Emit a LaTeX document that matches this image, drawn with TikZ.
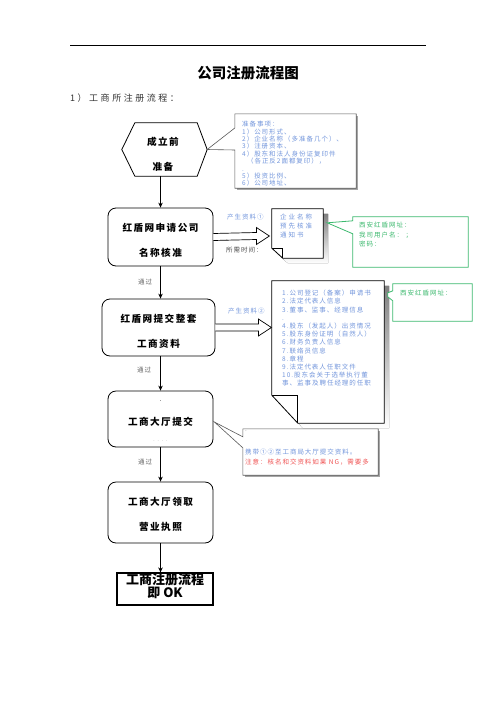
\documentclass[tikz,border=0pt]{standalone}
\usepackage{fontspec}
\newfontfamily\cjk{Noto Sans CJK SC}
\newfontfamily\cjkA[LetterSpace=15]{Noto Sans CJK SC}
\newfontfamily\cjkB[LetterSpace=30]{Noto Sans CJK SC}
\newfontfamily\cjkC[LetterSpace=28]{Noto Sans CJK SC}
\usetikzlibrary{arrows.meta,calc}
\definecolor{noteblue}{RGB}{115,150,220}
\definecolor{notegreen}{RGB}{60,185,110}
\definecolor{notered}{RGB}{240,85,85}
\definecolor{shade}{RGB}{128,128,128}
\newcommand\mydoc[3]{%
  \fill[shade] ($(#1.north west)+(5,5)$) -- ($(#1.north east)+(5,5)$) -- ($(#1.south east)+(5,5)$) -- ($(#1.south west)+(#2+5,5)$) -- ($(#1.south west)+(5,5-#3)$) -- cycle;
  \filldraw[fill=white, line width=0.8pt] (#1.north west) -- (#1.north east) -- (#1.south east) -- ($(#1.south west)+(#2,0)$) -- ($(#1.south west)+(0,-#3)$) -- cycle;
  \draw[line width=0.8pt] ($(#1.south west)+(0,-#3)$) -- ($(#1.south west)+(#2,-#3)$) -- ($(#1.south west)+(#2,0)$);
}
\newcommand\hollowarrow[2]{%
  \draw[hollow] ($(#1)+(0,-3.5)$) -- ($(#2)+(-13,-3.5)$) -- ($(#2)+(-13,-8.5)$) -- (#2) -- ($(#2)+(-13,8.5)$) -- ($(#2)+(-13,3.5)$) -- ($(#1)+(0,3.5)$);
}
\begin{document}
\begin{tikzpicture}[x=1pt,y=-1pt,
  flowbox/.style={draw, line width=0.8pt, rounded corners=8pt, inner sep=0pt},
  boxtext/.style={align=center, inner sep=0pt, font=\cjkA\bfseries\fontsize{9.6}{25}\selectfont},
  flow/.style={-{Stealth[length=5pt,width=4.5pt]}, line width=0.8pt},
  pass/.style={inner sep=0pt, font=\cjkA\fontsize{6.5}{7}\selectfont, text=black!60},
  note/.style={align=left, anchor=north west, inner sep=0pt, font=\cjkA\fontsize{6.5}{7.4}\selectfont, text=noteblue},
  hollow/.style={draw, fill=white, line width=0.7pt, line join=miter},
  callout/.style={draw=black!65, fill=white, line width=0.6pt},
  gcallout/.style={draw=notegreen, fill=white, line width=0.8pt},
]
\useasboundingbox (0,0) rectangle (496,702);

% header
\coordinate (hl) at (70,45);
\coordinate (hr) at (426,45);
\draw[line width=0.8pt] (hl) -- (hr);
\node[inner sep=0pt, font=\cjk\bfseries\fontsize{14.5}{16}\selectfont] (title) at (248,73) {公司注册流程图};
\node[inner sep=0pt, anchor=west, font=\cjkC\fontsize{9}{10}\selectfont, text=black!80] (sub) at (70,98) {1）工商所注册流程：};

% hexagon
\path node[minimum width=85pt, minimum height=53pt, inner sep=0pt] (b1) at (164.5,149.5) {};
\draw[line width=0.8pt] (b1.west) -- ($(b1.north west)+(13,0)$) -- ($(b1.north east)+(-10,0)$) -- (b1.east) -- ($(b1.south east)+(-10,0)$) -- ($(b1.south west)+(13,0)$) -- cycle;
\node[boxtext] (b1t) at (163,154.5) {成立前\\准备};

% callout 1
\path node[minimum width=121pt, minimum height=74pt, inner sep=0pt] (n1) at (295.5,151) {};
\fill[shade!70] ($(n1.north west)+(2,2)$) rectangle ($(n1.south east)+(2,2)$);
\filldraw[callout] (n1.north west) -- (n1.north east) -- (n1.south east) -- (n1.south west) -- ($(n1.west)+(0,-1)$) -- (b1.east) -- ($(n1.west)+(0,-23)$) -- cycle;
\node[note] (n1t) at (242,121) {准备事项：\\1）公司形式、\\2）企业名称（多准备几个）、\\3）注册资本、\\4）股东和法人身份证复印件\\\ \ （各正反2面都复印），\\.\\5）投资比例、\\6）公司地址、};

% box 2
\node[flowbox, minimum width=105pt, minimum height=58pt] (b2) at (160.5,237) {};
\node[boxtext] (b2t) at (160.5,240.5) {红盾网申请公司\\名称核准};
\draw[flow] (b1.south -| b2.north) -- (b2.north);

% doc 1
\path node[minimum width=51pt, minimum height=49pt, inner sep=0pt] (d1) at (297.5,233.5) {};
\mydoc{d1}{11}{10}
\node[note, font=\cjkB\fontsize{6.5}{9}\selectfont] (d1t) at (280,214) {企业名称\\预先核准\\通知书};
\coordinate (tip1) at ($(b2.east)+(56,-1)$);
\hollowarrow{b2.east}{tip1}
\node[pass, anchor=west, text=noteblue] (p1) at (227,217) {产生资料①};
\node[pass, anchor=west, text=black!70] (dot1) at (226,240) {.};
\node[pass, anchor=west, text=black!70] (time) at (226,250) {所需时间：};

% green callout 1
\path node[minimum width=115pt, minimum height=50pt, inner sep=0pt] (n2) at (410.5,242) {};
\filldraw[gcallout] (n2.north west) -- (n2.north east) -- (n2.south east) -- (n2.south west) -- ($(n2.north west)+(0,17)$) -- ($(d1.north east)+(4,14)$) -- ($(n2.north west)+(0,4)$) -- cycle;
\node[note, text=notegreen, font=\cjkA\fontsize{6.5}{9.5}\selectfont] (n2t) at (359,222) {西安红盾网址：\\我司用户名：\ ；\\密码：};

% box 3
\node[flowbox, minimum width=113pt, minimum height=57pt] (b3) at (158.5,327.5) {};
\node[boxtext] (b3t) at (158.5,331.5) {红盾网提交整套\\工商资料};
\draw[flow] (b2.south) -- (b2.south |- b3.north);
\node[pass, anchor=west] (pass1) at (138,282) {通过};

% doc 2
\path node[minimum width=112pt, minimum height=142pt, inner sep=0pt] (d2) at (328,352) {};
\mydoc{d2}{26}{28}
\node[note, font=\cjkA\fontsize{6.5}{8.2}\selectfont] (d2t) at (282,290) {1.公司登记（备案）申请书\\2.法定代表人信息\\3.董事、监事、经理信息\\.\\4.股东（发起人）出资情况\\5.股东身份证明（自然人）\\6.财务负责人信息\\7.联络员信息\\8.章程\\9.法定代表人任职文件\\10.股东会关于选举执行董\\事、监事及聘任经理的任职};
\coordinate (tip2) at ($(b3.east)+(56,0)$);
\hollowarrow{b3.east}{tip2}
\node[pass, anchor=west, text=noteblue] (p2) at (228,311) {产生资料②};

% green callout 2
\path node[minimum width=79pt, minimum height=37pt, inner sep=0pt] (n3) at (432.5,302.5) {};
\filldraw[gcallout] (n3.north west) -- (n3.north east) -- (n3.south east) -- (n3.south west) -- ($(n3.north west)+(0,17)$) -- ($(n3.north west)+(-5,13)$) -- ($(n3.north west)+(-5,9)$) -- ($(n3.north west)+(0,7)$) -- cycle;
\node[note, text=notegreen] (n3t) at (400,290) {西安红盾网址：};

% box 4
\node[flowbox, minimum width=105pt, minimum height=56pt] (b4) at (160.5,419) {};
\node[boxtext] (b4t) at (160.5,422) {工商大厅提交};
\node[pass, text=black] (b4d) at (160.5,401) {.};
\node[pass, text=black!25] (b4e) at (160.5,441) {.\ .\ .\ .};
\draw[flow] (b4.north |- b3.south) -- (b4.north);
\node[pass, anchor=west] (pass2) at (137,370) {通过};

% callout 3
\path node[minimum width=135pt, minimum height=46pt, inner sep=0pt] (n4) at (310.5,452) {};
\fill[shade!70] ($(n4.north west)+(2,2)$) rectangle ($(n4.south east)+(2,2)$);
\filldraw[callout] (n4.north west) -- (n4.north east) -- (n4.south east) -- (n4.south west) -- ($(n4.north west)+(0,19)$) -- ($(b4.east)+(1,3)$) -- ($(n4.north west)+(0,8)$) -- cycle;
\node[note, text=black!40] (n4d) at (245,430) {.};
\node[note] (n4t) at (245,449) {携带①②至工商局大厅提交资料。};
\node[note, text=notered] (n4r) at (245,459) {注意：核名和交资料如果 NG，需要多};

% box 5
\node[flowbox, minimum width=105pt, minimum height=61pt] (b5) at (160.5,512.5) {};
\node[boxtext] (b5t) at (160.5,514.5) {工商大厅领取\\营业执照};
\draw[flow] (b4.south) -- (b5.north);
\node[pass, anchor=west] (pass3) at (138,462) {通过};

% final box
\node[draw, line width=1.2pt, minimum width=96pt, minimum height=32pt, inner sep=0pt] (b6) at (165,589) {};
\node[align=center, inner sep=0pt, font=\cjk\bfseries\fontsize{13}{13}\selectfont] (b6t) at (165,586.5) {工商注册流程\\即 OK};
\draw[flow] (b5.south) -- (b5.south |- b6.north);
\end{tikzpicture}
\end{document}
